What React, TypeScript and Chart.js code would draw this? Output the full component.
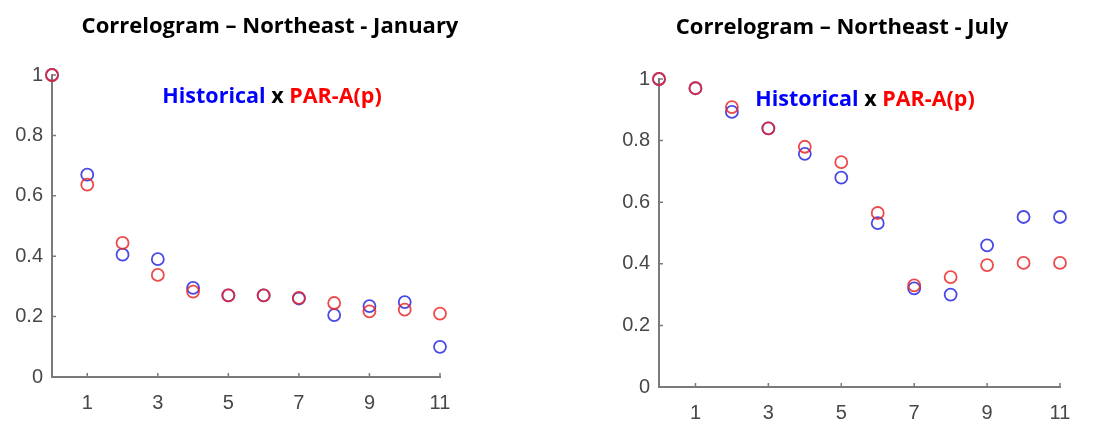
import React, { useEffect, useRef } from "react";
import { Chart, registerables } from "chart.js";

Chart.register(...registerables);

// ---- data ----
const lags = [0, 1, 2, 3, 4, 5, 6, 7, 8, 9, 10, 11];
const janHistorical = [1, 0.67, 0.405, 0.39, 0.295, 0.27, 0.27, 0.26, 0.205, 0.235, 0.248, 0.1];
const janParA = [1, 0.637, 0.444, 0.338, 0.283, 0.27, 0.27, 0.262, 0.245, 0.217, 0.223, 0.21];
const julHistorical = [1, 0.97, 0.893, 0.84, 0.757, 0.68, 0.532, 0.32, 0.3, 0.46, 0.552, 0.552];
const julParA = [1, 0.97, 0.909, 0.84, 0.78, 0.73, 0.565, 0.33, 0.357, 0.396, 0.403, 0.403];
const xTickValues = [1, 3, 5, 7, 9, 11];
const yTickValues = [0, 0.2, 0.4, 0.6, 0.8, 1];
const titleJan = "Correlogram – Northeast - January";
const titleJul = "Correlogram – Northeast - July";
const legendParts = ["Historical", " x ", "PAR-A(p)"];
const legendColors = ["#0000ff", "#000000", "#ff0000"];

const BLUE = "rgba(40,40,225,0.85)";
const RED = "rgba(235,40,40,0.85)";
const AXIS = "#7a7a7a";
const TICKTXT = "#474747";

const decorPlugin = {
  id: "decor",
  afterDraw(chart: any, _args: any, opts: any) {
    const ctx = chart.ctx as CanvasRenderingContext2D;
    ctx.save();
    ctx.fillStyle = "#000";
    ctx.font = "bold 22px 'Open Sans'";
    ctx.textAlign = "center";
    ctx.textBaseline = "middle";
    ctx.fillText(opts.title, opts.titleX, opts.titleY);

    ctx.font = "bold 21.5px 'Open Sans'";
    const widths = legendParts.map((p) => ctx.measureText(p).width);
    const total = widths.reduce((a, b) => a + b, 0);
    let x = opts.legendX - total / 2;
    ctx.textAlign = "left";
    legendParts.forEach((p, i) => {
      ctx.fillStyle = legendColors[i];
      ctx.fillText(p, x, opts.legendY);
      x += widths[i];
    });

    const xs = chart.scales.x;
    const ys = chart.scales.y;
    ctx.strokeStyle = AXIS;
    ctx.lineWidth = 1.5;
    ctx.beginPath();
    xs.ticks.forEach((t: any) => {
      const px = xs.getPixelForValue(t.value);
      ctx.moveTo(px, ys.bottom);
      ctx.lineTo(px, ys.bottom - 4);
    });
    ys.ticks.forEach((t: any) => {
      const py = ys.getPixelForValue(t.value);
      ctx.moveTo(xs.left, py);
      ctx.lineTo(xs.left + 4, py);
    });
    ctx.stroke();
    ctx.restore();
  },
};

type Cfg = {
  left: number;
  hist: number[];
  par: number[];
  title: string;
  titleX: number;
  titleY: number;
  legendX: number;
  legendY: number;
  yWidth: number;
  xHeight: number;
  padTop: number;
  padRight: number;
};

function Correlogram({ cfg }: { cfg: Cfg }) {
  const ref = useRef<HTMLCanvasElement>(null);
  useEffect(() => {
    const mk = (vals: number[]) => lags.map((l, i) => ({ x: l, y: vals[i] }));
    const chart = new Chart(ref.current as HTMLCanvasElement, {
      type: "scatter",
      data: {
        datasets: [
          {
            label: "PAR-A(p)",
            data: mk(cfg.par),
            borderColor: RED,
            backgroundColor: "rgba(0,0,0,0)",
            pointRadius: 6,
            pointBorderWidth: 1.8,
            clip: false as any,
          },
          {
            label: "Historical",
            data: mk(cfg.hist),
            borderColor: BLUE,
            backgroundColor: "rgba(0,0,0,0)",
            pointRadius: 6,
            pointBorderWidth: 1.8,
            clip: false as any,
          },
        ],
      },
      options: {
        animation: false,
        responsive: false,
        devicePixelRatio: 1,
        events: [],
        layout: { padding: { top: cfg.padTop, right: cfg.padRight, left: 0, bottom: 0 } },
        plugins: {
          legend: { display: false },
          title: { display: false },
          tooltip: { enabled: false },
          decor: {
            title: cfg.title,
            titleX: cfg.titleX,
            titleY: cfg.titleY,
            legendX: cfg.legendX,
            legendY: cfg.legendY,
          },
        } as any,
        scales: {
          x: {
            type: "linear",
            min: 0,
            max: 11,
            grid: { display: false, drawTicks: false },
            border: { display: true, color: AXIS, width: 2 },
            ticks: {
              color: TICKTXT,
              font: { family: "'Liberation Sans', Arial", size: 20 },
              padding: 14,
              maxRotation: 0,
            },
            afterBuildTicks: (s: any) => {
              s.ticks = xTickValues.map((v) => ({ value: v }));
            },
            afterFit: (s: any) => {
              s.height = cfg.xHeight;
            },
          },
          y: {
            type: "linear",
            min: 0,
            max: 1,
            grid: { display: false, drawTicks: false },
            border: { display: true, color: AXIS, width: 2 },
            ticks: {
              color: TICKTXT,
              font: { family: "'Liberation Sans', Arial", size: 20 },
              padding: 9,
              callback: (v: any) => String(Math.round(Number(v) * 10) / 10),
            },
            afterBuildTicks: (s: any) => {
              s.ticks = yTickValues.map((v) => ({ value: v }));
            },
            afterFit: (s: any) => {
              s.width = cfg.yWidth;
            },
          },
        },
      },
      plugins: [decorPlugin as any],
    });
    return () => chart.destroy();
  }, []);
  return (
    <canvas
      ref={ref}
      width={550}
      height={422}
      style={{ position: "absolute", left: cfg.left, top: 0, width: 550, height: 422 }}
    />
  );
}

const janCfg: Cfg = {
  left: 0,
  hist: janHistorical,
  par: janParA,
  title: titleJan,
  titleX: 270,
  titleY: 27,
  legendX: 272,
  legendY: 97,
  yWidth: 52,
  xHeight: 45,
  padTop: 75,
  padRight: 110,
};

const julCfg: Cfg = {
  left: 550,
  hist: julHistorical,
  par: julParA,
  title: titleJul,
  titleX: 292,
  titleY: 28,
  legendX: 315,
  legendY: 100,
  yWidth: 109,
  xHeight: 35,
  padTop: 79,
  padRight: 40,
};

export default function App() {
  return (
    <div
      style={{
        position: "fixed",
        left: 0,
        top: 0,
        width: 1100,
        height: 422,
        background: "#fff",
        overflow: "hidden",
      }}
    >
      <Correlogram cfg={janCfg} />
      <Correlogram cfg={julCfg} />
    </div>
  );
}
